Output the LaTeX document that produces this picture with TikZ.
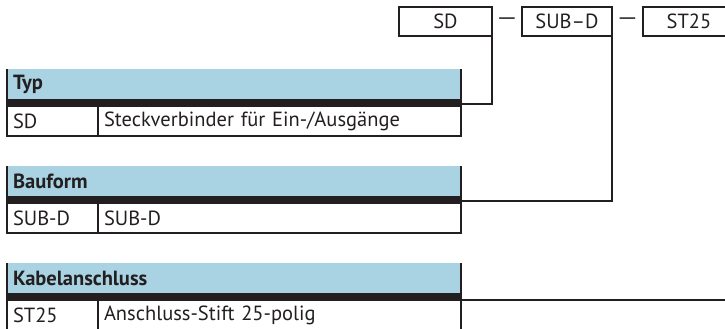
\documentclass[tikz,border=0pt]{standalone}
\usepackage{fontspec}
\setmainfont{PT Sans}
\usetikzlibrary{positioning}
\definecolor{festoblue}{RGB}{169,211,226}
\definecolor{festoblack}{RGB}{35,31,32}

\begin{document}
\begin{tikzpicture}[x=1pt,y=-1pt,
	every node/.style = {outer sep=0pt},
	line/.style = {draw=festoblack, line width=2pt},
	band/.style = {draw=festoblack, line width=7pt},
	txt/.style = {font=\fontsize{20.5}{24}\selectfont, text=festoblack},
	codebox/.style = {line, txt, minimum height=29pt, inner sep=0pt},
	head/.style = {fill=festoblue, anchor=north west, minimum width=454pt, minimum height=30pt,
		text width=442pt, inner xsep=6pt, inner ysep=0pt, align=left, txt, font=\bfseries\fontsize{20.5}{24}\selectfont},
	keycell/.style = {line, txt, minimum width=91pt, minimum height=30pt, text width=79pt,
		inner xsep=6pt, inner ysep=0pt, align=left},
	valcell/.style = {keycell, minimum width=363pt, text width=351pt}]
	\useasboundingbox (0,0) rectangle (725,329);

	% type code boxes
	\node[codebox, minimum width=93pt] (sd) at (445.5,21.5) {SD};
	\node[codebox, minimum width=90pt] (subd) at (567,21.5) {SUB–D};
	\node[codebox, minimum width=92pt] (st) at (689,21.5) {ST25};
	\path (sd) -- (subd) node[midway, txt] (dash1) {\scalebox{1.3}[1]{—}};
	\path (subd) -- (st) node[midway, txt] (dash2) {\scalebox{1.3}[1]{—}};

	% Typ
	\node[head] (typ) at (7,69) {Typ};
	\node[keycell, below=7pt of typ.south west, anchor=north west] (typkey) {SD};
	\node[valcell, right=0pt of typkey] (typval) {Steckverbinder für Ein-/Ausgänge};
	\draw[band] ([yshift=-3.5pt]typ.south west) -- ([yshift=-3.5pt]typ.south east);
	\draw[line] (typ.north west) -- (typkey.north west);
	\draw[line] (typ.north east) -- (typval.north east);

	% Bauform
	\node[head] (bau) at (7,166) {Bauform};
	\node[keycell, below=7pt of bau.south west, anchor=north west] (baukey) {SUB-D};
	\node[valcell, right=0pt of baukey] (bauval) {SUB-D};
	\draw[band] ([yshift=-3.5pt]bau.south west) -- ([yshift=-3.5pt]bau.south east);
	\draw[line] (bau.north west) -- (baukey.north west);
	\draw[line] (bau.north east) -- (bauval.north east);

	% Kabelanschluss
	\node[head] (kab) at (7,263) {Kabelanschluss};
	\node[keycell, below=7pt of kab.south west, anchor=north west] (kabkey) {ST25};
	\node[valcell, right=0pt of kabkey] (kabval) {Anschluss-Stift 25-polig};
	\draw[band] ([yshift=-3.5pt]kab.south west) -- ([yshift=-3.5pt]kab.south east);
	\draw[line] (kab.north west) -- (kabkey.north west);
	\draw[line] (kab.north east) -- (kabval.north east);

	% connectors
	\coordinate (typjoin) at ([yshift=-5pt]typ.south east);
	\coordinate (baujoin) at ([yshift=-5pt]bau.south east);
	\coordinate (kabjoin) at ([yshift=-7pt]kab.south east);
	\draw[line] (sd.north east) |- (typjoin);
	\draw[line] (subd.north east) |- (baujoin);
	\draw[line] (st.north east) |- (kabjoin);
\end{tikzpicture}
\end{document}
